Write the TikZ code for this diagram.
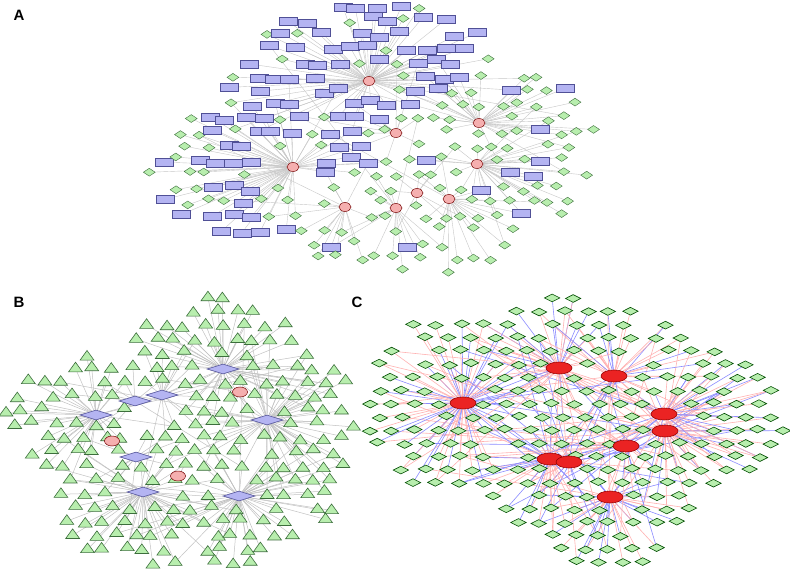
\documentclass[tikz,border=0pt]{standalone}
\usepackage{fontspec}
\setsansfont{Liberation Sans}
\usepackage{tikz}
\usetikzlibrary{shapes.geometric}

\definecolor{leafgreen}{RGB}{184,238,174}
\definecolor{leafline}{RGB}{60,110,60}
\definecolor{boxblue}{RGB}{180,180,242}
\definecolor{boxline}{RGB}{80,80,150}
\definecolor{hubpink}{RGB}{245,175,175}
\definecolor{hubred}{RGB}{235,35,35}

\pgfdeclarelayer{bg}
\pgfdeclarelayer{fg}
\pgfsetlayers{bg,main,fg}

\newcommand{\edgeitem}[3]{\draw[#3] (#1) -- (#2);}
\def\edgelist{}
\newcommand{\addedge}[2]{\pickedge
  \xdef\edgelist{\unexpanded\expandafter{\edgelist}\noexpand\edgeitem{#1}{#2}{\edgesty}}}

% leaves on a jittered grid, each tied to its nearest hub
\newcommand{\leafgrid}[7]{%
  \foreach \row in {0,...,#5}{
    \foreach \col in {0,...,#4}{
      \pgfmathsetmacro\px{#2+\col*#6+mod(\row,2)*#6/2+rand*#6*\jit}
      \pgfmathsetmacro\py{#3+\row*#7+rand*#7*\jit}
      \xdef\best{99}\xdef\bi{0}\xdef\bestb{99}\xdef\bib{0}
      \foreach \hb in {0,...,\nh}{
        \pgfmathsetmacro\dd{((\px-\hx[\hb])/\hrx[\hb])^2+((\py-\hy[\hb])/\hry[\hb])^2}
        \pgfmathparse{\dd<\best?1:0}
        \ifnum\pgfmathresult=1
          \xdef\bestb{\best}\xdef\bib{\bi}\xdef\best{\dd}\xdef\bi{\hb}
        \else
          \pgfmathparse{\dd<\bestb?1:0}
          \ifnum\pgfmathresult=1 \xdef\bestb{\dd}\xdef\bib{\hb}\fi
        \fi
      }
      \pgfmathparse{(\best<1)&&(\best>0.03)&&(rnd<\keep)?1:0}
      \ifnum\pgfmathresult=1
        \pickleaf
        \node[\leafsty] (#1-\row-\col) at (\px,\py) {};
        \addedge{#1\bi}{#1-\row-\col}
        \pgfmathparse{(\bestb<1.4)&&(rnd<\ptwo)?1:0}
        \ifnum\pgfmathresult=1 \addedge{#1\bib}{#1-\row-\col}\fi
        \pgfmathparse{rnd<\pthree?1:0}
        \ifnum\pgfmathresult=1 \pgfmathrandominteger{\rj}{0}{\nh}\addedge{#1\rj}{#1-\row-\col}\fi
      \fi
    }
  }
}

\begin{document}
\begin{tikzpicture}[x=0.5pt, y=-0.5pt,
    edgeA/.style={draw=black!22, line width=0.2pt},
    edgeB/.style={draw=black!24, line width=0.25pt},
    edgeR/.style={draw=red!30, line width=0.3pt},
    edgeU/.style={draw=blue!45, line width=0.3pt},
    hubA/.style={ellipse, draw=red!45!black, fill=hubpink, line width=0.25pt, minimum width=6pt, minimum height=4.5pt, inner sep=0pt},
    diaA/.style={diamond, draw=leafline, fill=leafgreen, line width=0.2pt, minimum width=6pt, minimum height=4pt, inner sep=0pt},
    boxA/.style={rectangle, draw=boxline, fill=boxblue, line width=0.2pt, minimum width=9pt, minimum height=4pt, inner sep=0pt},
    mirB/.style={diamond, draw=boxline, fill=boxblue, line width=0.3pt, minimum width=16pt, minimum height=5pt, inner sep=0pt},
    protB/.style={ellipse, draw=red!45!black, fill=hubpink, line width=0.25pt, minimum width=7.5pt, minimum height=5pt, inner sep=0pt},
    triB/.style={regular polygon, regular polygon sides=3, draw=leafline, fill=leafgreen, line width=0.3pt, minimum size=8pt, inner sep=0pt, yscale=0.8},
    hubC/.style={ellipse, draw=red!60!black, fill=hubred, line width=0.3pt, minimum width=13pt, minimum height=6pt, inner sep=0pt},
    diaC/.style={diamond, draw=black!70!green, fill=leafgreen, line width=0.3pt, minimum width=7.8pt, minimum height=4pt, inner sep=0pt},
    panel/.style={font=\sffamily\bfseries\fontsize{7.5}{9}\selectfont}]

    \useasboundingbox (0,0) rectangle (790,571);
    \pgfmathsetseed{11}

    \node[panel] (labA) at (19,15) {A};
    \node[panel] (labB) at (19,302) {B};
    \node[panel] (labC) at (357,302) {C};

    % A
    \def\hx{{369,479,396,293,477,417,449,345,396}}
    \def\hy{{81,123,133,167,164,193,199,207,208}}
    \def\hrx{{140,120,60,145,120,70,90,70,80}}
    \def\hry{{78,60,50,75,70,60,75,65,65}}
    \def\hblue{{0.7,0.15,0.1,0.5,0.15,0.08,0.08,0.08,0.08}}
    \def\nh{8}\def\keep{0.82}\def\ptwo{0.35}\def\pthree{0.06}\def\jit{0.25}
    \begin{pgfonlayer}{fg}
        \foreach \hb in {0,...,8}{
            \pgfmathsetmacro\qx{\hx[\hb]}\pgfmathsetmacro\qy{\hy[\hb]}
            \node[hubA] (a\hb) at (\qx,\qy) {};
        }
    \end{pgfonlayer}
    \def\pickleaf{\pgfmathparse{rnd<\hblue[\bi]?1:0}\ifnum\pgfmathresult=1 \def\leafsty{boxA}\else\def\leafsty{diaA}\fi}
    \def\pickedge{\def\edgesty{edgeA}}
    \leafgrid{a}{150}{6}{24}{19}{19}{14}

    % B
    \def\hx{{223,96,135,162,267,136,143,239,240,112,178}}
    \def\hy{{369,415,401,395,420,457,492,496,392,441,476}}
    \def\hrx{{95,100,60,60,100,60,95,100,25,25,25}}
    \def\hry{{75,65,50,55,70,50,75,72,20,20,20}}
    \def\nh{10}\def\keep{0.88}\def\ptwo{0.5}\def\pthree{0.1}\def\jit{0.22}
    \begin{pgfonlayer}{fg}
        \foreach \hb in {0,...,10}{
            \pgfmathsetmacro\qx{\hx[\hb]}\pgfmathsetmacro\qy{\hy[\hb]}
            \ifnum\hb>7 \node[protB] (b\hb) at (\qx,\qy) {};
            \else \node[mirB] (b\hb) at (\qx,\qy) {};\fi
        }
    \end{pgfonlayer}
    \def\pickleaf{\def\leafsty{triB}}
    \def\pickedge{\def\edgesty{edgeB}}
    \leafgrid{b}{4}{298}{18}{19}{20}{14}

    % C
    \def\hx{{463,559,614,664,665,626,550,569,610}}
    \def\hy{{403,368,376,414,431,446,459,462,497}}
    \def\hrx{{112,85,90,120,120,70,85,60,90}}
    \def\hry{{90,72,75,70,70,55,75,50,72}}
    \def\nh{8}\def\keep{0.88}\def\ptwo{0.6}\def\pthree{0.4}\def\jit{0.1}
    \begin{pgfonlayer}{fg}
        \foreach \hb in {0,...,8}{
            \pgfmathsetmacro\qx{\hx[\hb]}\pgfmathsetmacro\qy{\hy[\hb]}
            \node[hubC] (c\hb) at (\qx,\qy) {};
        }
    \end{pgfonlayer}
    \def\pickleaf{\def\leafsty{diaC}}
    \def\pickedge{\pgfmathparse{rnd<0.55?1:0}\ifnum\pgfmathresult=1 \def\edgesty{edgeR}\else\def\edgesty{edgeU}\fi}
    \leafgrid{c}{368}{298}{18}{20}{23}{13.2}

    % all connectors behind the nodes
    \begin{pgfonlayer}{bg}
        \fill[white] (0,0) rectangle (790,571);
        \edgelist
    \end{pgfonlayer}
\end{tikzpicture}
\end{document}
